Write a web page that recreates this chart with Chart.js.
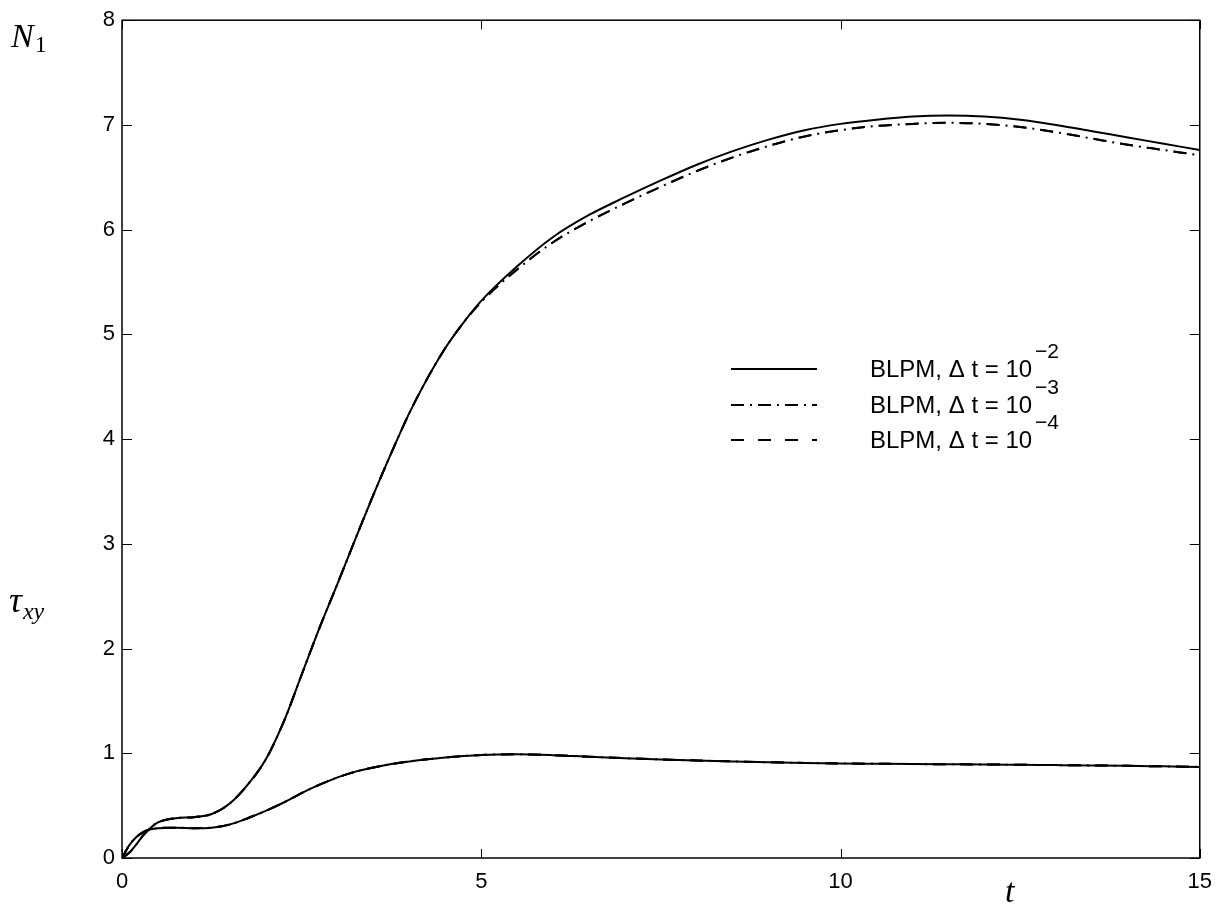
<!DOCTYPE html>
<html>
<head>
    <title>N1 and tau_xy, BLPM</title>
    <script src="https://cdn.jsdelivr.net/npm/chart.js"></script>
    <style>
        body {
            margin: 0;
            background: #fff;
        }
        #plot {
            display: block;
        }
    </style>
</head>
<body>
    <canvas id="plot" width="1223" height="911"></canvas>

    <script>
        const tValues = [0, 0.1, 0.2, 0.3, 0.4, 0.5, 0.75, 1, 1.25, 1.5, 1.75, 2, 2.25, 2.5, 2.75, 3, 3.25, 3.5, 3.75, 4,
            4.25, 4.5, 4.75, 5, 5.5, 6, 6.5, 7, 7.5, 8, 8.5, 9, 9.5, 10, 10.5, 11, 11.5, 12, 12.5, 13, 13.5, 14, 14.5, 15];

        // N1 curves
        const n1Dt2 = [0, 0.05, 0.13, 0.22, 0.29, 0.34, 0.38, 0.39, 0.42, 0.52, 0.7, 0.94, 1.3, 1.75, 2.2, 2.62, 3.05, 3.47, 3.87, 4.25,
            4.58, 4.87, 5.11, 5.32, 5.65, 5.93, 6.14, 6.31, 6.47, 6.62, 6.75, 6.86, 6.95, 7.01, 7.05, 7.08, 7.09, 7.08, 7.05, 7.0, 6.94, 6.88, 6.82, 6.76];
        const n1Dt3 = [0, 0.05, 0.13, 0.22, 0.29, 0.34, 0.38, 0.39, 0.42, 0.52, 0.7, 0.94, 1.3, 1.75, 2.2, 2.62, 3.05, 3.47, 3.87, 4.25,
            4.58, 4.87, 5.11, 5.31, 5.62, 5.88, 6.08, 6.25, 6.41, 6.56, 6.69, 6.8, 6.89, 6.95, 6.99, 7.01, 7.02, 7.01, 6.98, 6.93, 6.87, 6.81, 6.76, 6.71];
        const n1Dt4 = [0, 0.05, 0.13, 0.22, 0.29, 0.34, 0.38, 0.39, 0.42, 0.52, 0.7, 0.94, 1.3, 1.75, 2.2, 2.62, 3.05, 3.47, 3.87, 4.25,
            4.58, 4.87, 5.11, 5.31, 5.62, 5.88, 6.08, 6.25, 6.41, 6.56, 6.69, 6.8, 6.89, 6.95, 6.99, 7.01, 7.02, 7.01, 6.98, 6.93, 6.87, 6.81, 6.76, 6.71];

        // tau_xy curves
        const tauDt2 = [0, 0.12, 0.2, 0.25, 0.275, 0.285, 0.29, 0.285, 0.29, 0.32, 0.38, 0.45, 0.53, 0.62, 0.7, 0.77, 0.825, 0.865, 0.897, 0.922,
            0.943, 0.96, 0.974, 0.984, 0.99, 0.982, 0.967, 0.953, 0.941, 0.931, 0.922, 0.914, 0.908, 0.903, 0.9, 0.897, 0.895, 0.893, 0.89, 0.887, 0.884, 0.88, 0.875, 0.87];
        const tauDt3 = tauDt2.slice();
        const tauDt4 = tauDt2.slice();

        const xTicks = [0, 5, 10, 15];
        const yTicks = [0, 1, 2, 3, 4, 5, 6, 7, 8];
        const legendText = ['BLPM, \u0394 t = 10', 'BLPM, \u0394 t = 10', 'BLPM, \u0394 t = 10'];
        const legendPower = ['\u22122', '\u22123', '\u22124'];

        const dashes = [[], [13, 6, 2, 6], [13, 14]];
        const sans = '"Liberation Sans", Arial, sans-serif';
        const serif = '"Liberation Serif", "DejaVu Serif", serif';

        function series(vals, dash) {
            return {
                data: tValues.map((t, i) => ({ x: t, y: vals[i] })),
                borderColor: '#000',
                borderWidth: 2,
                borderDash: dash,
                pointRadius: 0,
                fill: false,
                cubicInterpolationMode: 'monotone'
            };
        }

        function seg(ctx, x1, y1, x2, y2) {
            ctx.beginPath();
            ctx.moveTo(x1, y1);
            ctx.lineTo(x2, y2);
            ctx.stroke();
        }

        // text with a lowered (or raised) smaller part right after it
        function withScript(ctx, main, mainFont, sub, subFont, x, y, dy, gap) {
            ctx.font = mainFont;
            ctx.fillText(main, x, y);
            const w = ctx.measureText(main).width;
            ctx.font = subFont;
            ctx.fillText(sub, x + w + gap, y + dy);
        }

        const frame = {
            id: 'frame',
            afterDatasetsDraw(chart) {
                const { ctx, chartArea: a, scales: { x, y } } = chart;
                ctx.save();
                ctx.strokeStyle = '#000';
                ctx.setLineDash([]);
                ctx.lineWidth = 1.5;
                ctx.strokeRect(a.left, a.top, a.right - a.left, a.bottom - a.top);

                // inward ticks on all four sides
                ctx.lineWidth = 1;
                xTicks.forEach(v => {
                    const px = Math.round(x.getPixelForValue(v)) + 0.5;
                    seg(ctx, px, a.bottom, px, a.bottom - 9);
                    seg(ctx, px, a.top, px, a.top + 9);
                });
                yTicks.forEach(v => {
                    const py = Math.round(y.getPixelForValue(v)) + 0.5;
                    seg(ctx, a.left, py, a.left + 10, py);
                    seg(ctx, a.right, py, a.right - 10, py);
                });

                // legend
                const rows = [369, 405, 440];
                ctx.fillStyle = '#000';
                ctx.textAlign = 'left';
                ctx.textBaseline = 'alphabetic';
                rows.forEach((ry, i) => {
                    ctx.lineWidth = 2;
                    ctx.setLineDash(dashes[i]);
                    seg(ctx, 731, ry, 817, ry);
                    ctx.setLineDash([]);
                    withScript(ctx, legendText[i], '24px ' + sans, legendPower[i], '21px ' + sans, 870, ry + 8, -19, 3);
                });

                // axis titles
                withScript(ctx, 'N', 'italic 34px ' + serif, '1', '24px ' + serif, 11, 47, 5, 1);
                withScript(ctx, '\u03c4', 'italic 36px ' + serif, 'xy', 'italic 24px ' + serif, 9, 612, 7, 1);
                ctx.font = 'italic 34px ' + serif;
                ctx.fillText('t', 1005, 902);
                ctx.restore();
            }
        };

        const chart = new Chart(document.getElementById('plot'), {
            type: 'line',
            data: {
                datasets: [
                    series(n1Dt2, dashes[0]),
                    series(n1Dt3, dashes[1]),
                    series(n1Dt4, dashes[2]),
                    series(tauDt2, dashes[0]),
                    series(tauDt3, dashes[1]),
                    series(tauDt4, dashes[2])
                ]
            },
            plugins: [frame],
            options: {
                responsive: false,
                animation: false,
                devicePixelRatio: 1,
                layout: {
                    padding: { top: 18, right: 23, left: 0, bottom: 0 }
                },
                plugins: {
                    legend: { display: false },
                    tooltip: { enabled: false }
                },
                scales: {
                    x: {
                        type: 'linear',
                        min: 0,
                        max: 15,
                        afterBuildTicks: s => { s.ticks = xTicks.map(v => ({ value: v })); },
                        afterFit: s => { s.height = 53; },
                        grid: { display: false, drawTicks: false },
                        border: { display: false },
                        ticks: {
                            color: '#000',
                            padding: 11,
                            maxRotation: 0,
                            font: { family: sans, size: 22 }
                        }
                    },
                    y: {
                        type: 'linear',
                        min: 0,
                        max: 8,
                        afterBuildTicks: s => { s.ticks = yTicks.map(v => ({ value: v })); },
                        afterFit: s => { s.width = 122; },
                        grid: { display: false, drawTicks: false },
                        border: { display: false },
                        ticks: {
                            color: '#000',
                            padding: 7,
                            font: { family: sans, size: 22 }
                        }
                    }
                }
            }
        });
    </script>
</body>
</html>
